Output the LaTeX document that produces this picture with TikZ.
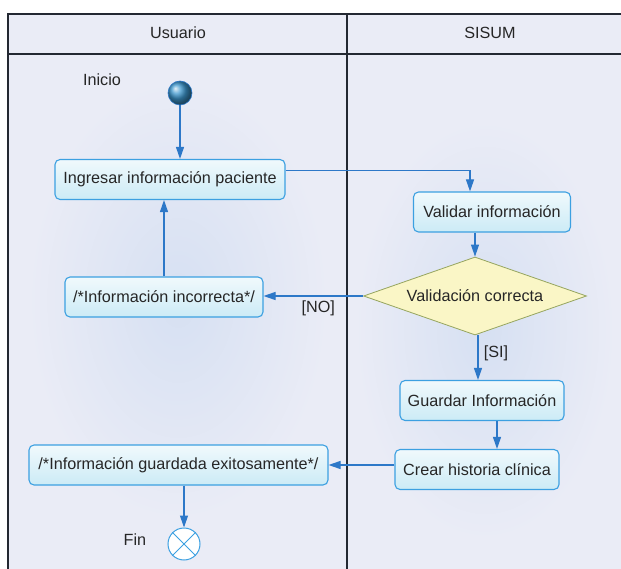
\documentclass[tikz,border=0pt]{standalone}
\usepackage{fontspec}
\setmainfont{Liberation Sans}
\usetikzlibrary{arrows.meta,shapes.geometric}
\definecolor{linea}{RGB}{45,120,200}
\definecolor{borde}{RGB}{60,160,225}
\definecolor{fondo}{RGB}{234,236,246}
\definecolor{brillo}{RGB}{214,224,242}
\definecolor{marco}{RGB}{35,40,50}
\definecolor{accionarriba}{RGB}{240,249,252}
\definecolor{accionabajo}{RGB}{204,235,246}
\definecolor{rombofill}{RGB}{250,246,198}
\definecolor{romboborde}{RGB}{150,165,95}
\definecolor{inicioazul}{RGB}{60,150,205}
\tikzset{
  texto/.style={font=\fontsize{16.2}{19}\selectfont,text=black!85},
  accion/.style={texto,draw=borde,line width=1.1pt,rounded corners=5pt,
    top color=accionarriba,bottom color=accionabajo,minimum height=40pt,inner sep=2pt},
  decision/.style={texto,diamond,draw=romboborde,line width=0.8pt,fill=rombofill,
    aspect=2.86,inner sep=0pt,minimum width=223pt,minimum height=78pt},
  flecha/.style={draw=linea,line width=1.1pt,-{Triangle[length=12pt,width=8pt]}},
  carril/.style={draw=marco,line width=1.5pt}
}
\begin{document}
\begin{tikzpicture}[x=1pt,y=-1pt]
\useasboundingbox (0,0) rectangle (621,569);
\fill[fondo] (8,14) rectangle (621,569);
\shade[inner color=brillo,outer color=fondo] (178,300) ellipse (150 and 220);
\shade[inner color=brillo,outer color=fondo] (485,330) ellipse (130 and 210);
\draw[carril] (621,14)--(8,14)--(8,569);
\draw[carril] (8,54)--(621,54);
\draw[carril] (347,14)--(347,569);
\node[texto] (usuario) at (178,33) {Usuario};
\node[texto] (sisum) at (490,33) {SISUM};

\node[circle,draw=linea,line width=0.6pt,ball color=inicioazul,minimum size=24pt,inner sep=0pt] (inicio) at (180,93) {};
\node[texto] (lblinicio) at (102,80) {Inicio};
\node[accion,minimum width=230pt] (ingresar) at (170,179.5) {Ingresar información paciente};
\node[accion,minimum width=157pt] (validar) at (492,212) {Validar información};
\node[decision] (validacion) at (475,296) {Validación correcta};
\node[accion,minimum width=198pt] (incorrecta) at (164,297) {/*Información incorrecta*/};
\node[accion,minimum width=164pt] (guardar) at (482,400.5) {Guardar Información};
\node[accion,minimum width=164pt] (crear) at (477,469.5) {Crear historia clínica};
\node[accion,minimum width=299pt] (guardada) at (178.5,465) {/*Información guardada exitosamente*/};
\node[circle,draw=borde,line width=1pt,fill=white,minimum size=32pt,inner sep=0pt] (fin) at (184,544) {};
\draw[borde,line width=1pt] (fin.north east)--(fin.south west) (fin.north west)--(fin.south east);
\node[texto] (lblfin) at (135,540) {Fin};

\draw[flecha] (inicio) -- (inicio |- ingresar.north);
\draw[flecha] ([yshift=9pt]ingresar.east) -| ([xshift=-22pt]validar.north);
\draw[flecha] (validacion.north |- validar.south) -- (validacion.north);
\draw[flecha] (validacion.west) -- (validacion.west -| incorrecta.east) node[texto,pos=0.45,below=1pt] (no) {[NO]};
\draw[flecha] (incorrecta.north) -- (incorrecta.north |- ingresar.south);
\draw[flecha] ([xshift=3pt]validacion.south) -- ([xshift=3pt]validacion.south |- guardar.north) node[texto,pos=0.4,right=2pt] (si) {[SI]};
\draw[flecha] ([xshift=15pt]guardar.south) -- ([xshift=15pt]guardar.south |- crear.north);
\draw[flecha] (crear.west |- guardada.east) -- (guardada.east);
\draw[flecha] (guardada.south -| fin) -- (fin.north);
\end{tikzpicture}
\end{document}
